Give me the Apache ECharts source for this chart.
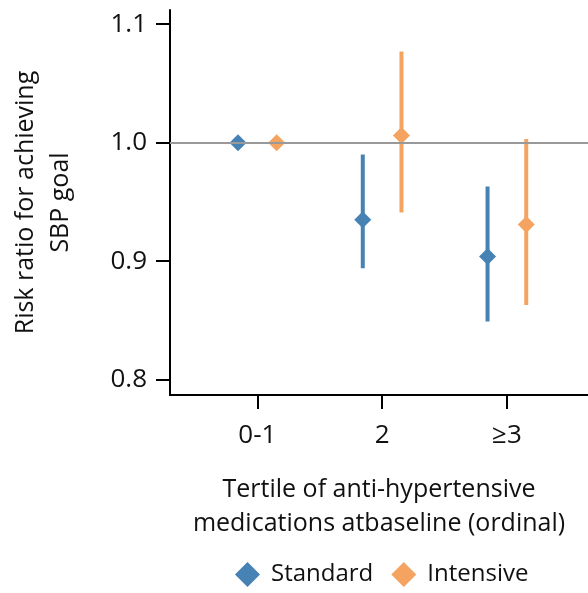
<!DOCTYPE html>
<html>
<head>
<meta charset="utf-8">
<script src="https://cdn.jsdelivr.net/npm/echarts@6/dist/echarts.min.js"></script>
<style>
  html, body { margin: 0; padding: 0; background: #fff; }
  #chart { width: 588px; height: 593px; }
</style>
</head>
<body>
<div id="chart"></div>
<script>
// data
var categories = ['0-1', '2', '≥3'];
var standardRR = [1.0, 0.935, 0.904];
var standardLow = [null, 0.894, 0.849];
var standardHigh = [null, 0.990, 0.963];
var intensiveRR = [1.0, 1.006, 0.931];
var intensiveLow = [null, 0.941, 0.863];
var intensiveHigh = [null, 1.077, 1.003];
var yTicks = [0.8, 0.9, 1.0, 1.1];
var xTicks = [1, 2, 3];

var blue = '#4682B4';
var orange = '#F4A460';
var font = 'Open Sans';
var dodge = 0.155;

function points(rr, shift) {
  return rr.map(function (v, i) { return [i + 1 + shift, v]; });
}
function intervals(low, high, shift) {
  var out = [];
  for (var i = 0; i < low.length; i++) {
    if (low[i] == null) continue;
    out.push([i + 1 + shift, low[i], high[i]]);
  }
  return out;
}
function errorBars(color) {
  return function (params, api) {
    var top = api.coord([api.value(0), api.value(2)]);
    var bot = api.coord([api.value(0), api.value(1)]);
    return {
      type: 'line',
      shape: { x1: top[0], y1: top[1], x2: bot[0], y2: bot[1] },
      style: { stroke: color, lineWidth: 4 }
    };
  };
}

var myChart = echarts.init(document.getElementById('chart'));
var option = {
  animation: false,
  textStyle: { fontFamily: font },
  grid: { left: 169, right: 0, top: 10, bottom: 198 },
  legend: {
    left: 230,
    top: 557,
    itemWidth: 25,
    itemHeight: 25,
    itemGap: 18,
    data: [
      { name: 'Standard', icon: 'diamond' },
      { name: 'Intensive', icon: 'diamond' }
    ],
    textStyle: { fontFamily: font, fontSize: 24, color: '#111', padding: [0, 0, 0, 6] }
  },
  xAxis: {
    type: 'value',
    min: 0.3,
    max: 3.65,
    splitLine: { show: false },
    axisLine: { show: true, lineStyle: { color: '#000', width: 2 } },
    axisTick: { show: true, length: 14, customValues: xTicks, lineStyle: { color: '#000', width: 2 } },
    axisLabel: {
      customValues: xTicks,
      margin: 28,
      fontSize: 26,
      color: '#111',
      fontFamily: font,
      formatter: function (v) { return categories[Math.round(v) - 1]; }
    },
    name: 'Tertile of anti-hypertensive\nmedications atbaseline (ordinal)',
    nameLocation: 'middle',
    nameGap: 78,
    nameTextStyle: { fontSize: 25, color: '#111', lineHeight: 34, fontFamily: font }
  },
  yAxis: {
    type: 'value',
    min: 0.787,
    max: 1.112,
    splitLine: { show: false },
    axisLine: { show: true, lineStyle: { color: '#000', width: 2 } },
    axisTick: { show: true, length: 14, customValues: yTicks, lineStyle: { color: '#000', width: 2 } },
    axisLabel: {
      customValues: yTicks,
      margin: 23,
      fontSize: 26,
      color: '#111',
      fontFamily: font,
      formatter: function (v) { return v.toFixed(1); }
    },
    name: 'Risk ratio for achieving\nSBP goal',
    nameLocation: 'middle',
    nameRotate: 90,
    nameGap: 92,
    nameTextStyle: { fontSize: 25, color: '#111', lineHeight: 35, fontFamily: font }
  },
  series: [
    {
      name: 'Standard',
      type: 'custom',
      z: 2,
      itemStyle: { color: blue },
      renderItem: errorBars(blue),
      data: intervals(standardLow, standardHigh, -dodge),
      markLine: {
        silent: true,
        symbol: 'none',
        label: { show: false },
        lineStyle: { color: '#999', width: 2, type: 'solid' },
        data: [{ yAxis: 1.0 }]
      }
    },
    {
      name: 'Intensive',
      type: 'custom',
      z: 2,
      itemStyle: { color: orange },
      renderItem: errorBars(orange),
      data: intervals(intensiveLow, intensiveHigh, dodge)
    },
    {
      name: 'Standard',
      type: 'scatter',
      z: 3,
      symbol: 'diamond',
      symbolSize: 17,
      itemStyle: { color: blue, opacity: 1 },
      data: points(standardRR, -dodge)
    },
    {
      name: 'Intensive',
      type: 'scatter',
      z: 3,
      symbol: 'diamond',
      symbolSize: 17,
      itemStyle: { color: orange, opacity: 1 },
      data: points(intensiveRR, dodge)
    }
  ]
};
myChart.setOption(option);
</script>
</body>
</html>
